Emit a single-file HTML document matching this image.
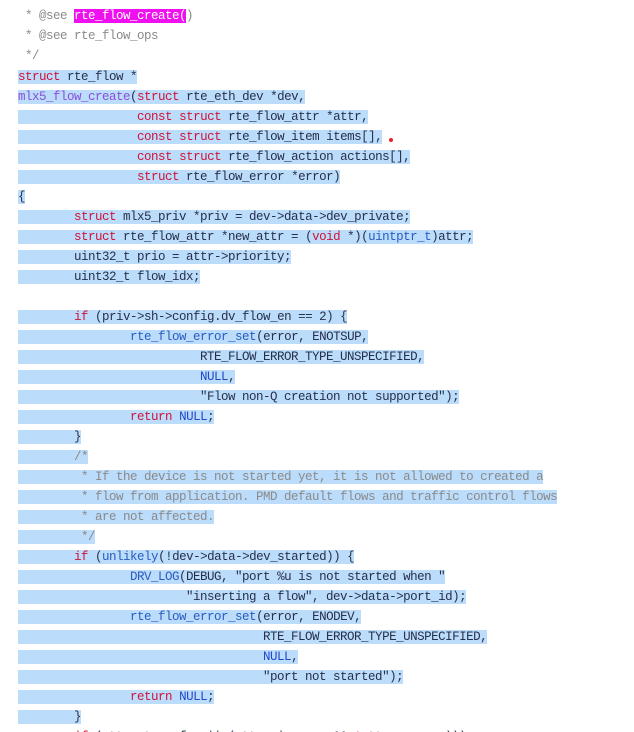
<!DOCTYPE html>
<html><head><meta charset="utf-8"><style>
html,body{margin:0;padding:0;background:#fff;width:634px;height:732px;overflow:hidden;position:relative}
.l{position:absolute;left:18px;height:14px;line-height:14px;font-family:"Liberation Mono",monospace;font-size:12.5px;letter-spacing:-0.5px;white-space:pre;color:#27304a;tab-size:8}
.h{background:#bbdcfb}
.k{color:#d01437}
.f{color:#8a4fd8}
.b{color:#2a5cc0}
.n{color:#2148c9}
.c{color:#8a8a8a}
.m{background:#ee10ee;color:#fff}
</style></head><body>
<div class="l c" style="top:9px"> * @see <span class="m">rte_flow_create(</span>)</div>
<div class="l c" style="top:29px"> * @see rte_flow_ops</div>
<div class="l c" style="top:49px"> */</div>
<div class="l" style="top:70px"><span class="h"><span class="k">struct</span> rte_flow *</span></div>
<div class="l" style="top:90px"><span class="h"><span class="f">mlx5_flow_create</span>(<span class="k">struct</span> rte_eth_dev *dev,</span></div>
<div class="l" style="top:110px"><span class="h">                 <span class="k">const</span> <span class="k">struct</span> rte_flow_attr *attr,</span></div>
<div class="l" style="top:130px"><span class="h">                 <span class="k">const</span> <span class="k">struct</span> rte_flow_item items[],</span></div>
<div class="l" style="top:150px"><span class="h">                 <span class="k">const</span> <span class="k">struct</span> rte_flow_action actions[],</span></div>
<div class="l" style="top:170px"><span class="h">                 <span class="k">struct</span> rte_flow_error *error)</span></div>
<div class="l" style="top:190px"><span class="h">{</span></div>
<div class="l" style="top:210px"><span class="h">        <span class="k">struct</span> mlx5_priv *priv = dev-&gt;data-&gt;dev_private;</span></div>
<div class="l" style="top:230px"><span class="h">        <span class="k">struct</span> rte_flow_attr *new_attr = (<span class="k">void</span> *)(<span class="b">uintptr_t</span>)attr;</span></div>
<div class="l" style="top:250px"><span class="h">        uint32_t prio = attr-&gt;priority;</span></div>
<div class="l" style="top:270px"><span class="h">        uint32_t flow_idx;</span></div>
<div class="l" style="top:310px"><span class="h">        <span class="k">if</span> (priv-&gt;sh-&gt;config.dv_flow_en == 2) {</span></div>
<div class="l" style="top:330px"><span class="h">                <span class="b">rte_flow_error_set</span>(error, ENOTSUP,</span></div>
<div class="l" style="top:350px"><span class="h">                          RTE_FLOW_ERROR_TYPE_UNSPECIFIED,</span></div>
<div class="l" style="top:370px"><span class="h">                          <span class="n">NULL</span>,</span></div>
<div class="l" style="top:390px"><span class="h">                          "Flow non-Q creation not supported");</span></div>
<div class="l" style="top:410px"><span class="h">                <span class="k">return</span> <span class="n">NULL</span>;</span></div>
<div class="l" style="top:430px"><span class="h">        }</span></div>
<div class="l" style="top:450px"><span class="h">        <span class="c">/*</span></span></div>
<div class="l" style="top:470px"><span class="h c">         * If the device is not started yet, it is not allowed to created a</span></div>
<div class="l" style="top:490px"><span class="h c">         * flow from application. PMD default flows and traffic control flows</span></div>
<div class="l" style="top:510px"><span class="h c">         * are not affected.</span></div>
<div class="l" style="top:530px"><span class="h c">         */</span></div>
<div class="l" style="top:550px"><span class="h">        <span class="k">if</span> (<span class="b">unlikely</span>(!dev-&gt;data-&gt;dev_started)) {</span></div>
<div class="l" style="top:570px"><span class="h">                <span class="b">DRV_LOG</span>(DEBUG, "port %u is not started when "</span></div>
<div class="l" style="top:590px"><span class="h">                        "inserting a flow", dev-&gt;data-&gt;port_id);</span></div>
<div class="l" style="top:610px"><span class="h">                <span class="b">rte_flow_error_set</span>(error, ENODEV,</span></div>
<div class="l" style="top:630px"><span class="h">                                   RTE_FLOW_ERROR_TYPE_UNSPECIFIED,</span></div>
<div class="l" style="top:650px"><span class="h">                                   <span class="n">NULL</span>,</span></div>
<div class="l" style="top:670px"><span class="h">                                   "port not started");</span></div>
<div class="l" style="top:690px"><span class="h">                <span class="k">return</span> <span class="n">NULL</span>;</span></div>
<div class="l" style="top:710px"><span class="h">        }</span></div>
<div class="l" style="top:730px">        <span class="k">if</span> (attr-&gt;transfer || (attr-&gt;ingress &amp;&amp; <span class="k">!</span>attr-&gt;egress)))</div>
<div style="position:absolute;left:389px;top:138px;width:4px;height:4px;border-radius:50%;background:#e8202a"></div>
</body></html>
